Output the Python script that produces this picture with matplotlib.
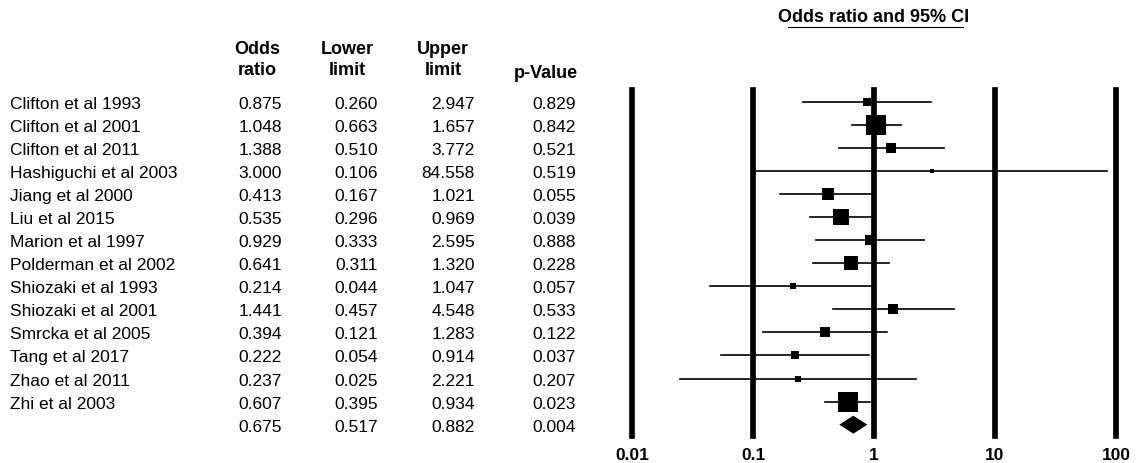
import matplotlib
matplotlib.use("Agg")
import matplotlib.pyplot as plt
from matplotlib import transforms
from matplotlib.lines import Line2D
from matplotlib.ticker import NullLocator

plt.rcParams['font.family'] = ['Liberation Sans', 'DejaVu Sans']

# data
studies = ["Clifton et al 1993", "Clifton et al 2001", "Clifton et al 2011",
           "Hashiguchi et al 2003", "Jiang et al 2000", "Liu et al 2015",
           "Marion et al 1997", "Polderman et al 2002", "Shiozaki et al 1993",
           "Shiozaki et al 2001", "Smrcka et al 2005", "Tang et al 2017",
           "Zhao et al 2011", "Zhi et al 2003"]
odds_ratio = [0.875, 1.048, 1.388, 3.000, 0.413, 0.535, 0.929, 0.641, 0.214,
              1.441, 0.394, 0.222, 0.237, 0.607]
lower = [0.260, 0.663, 0.510, 0.106, 0.167, 0.296, 0.333, 0.311, 0.044,
         0.457, 0.121, 0.054, 0.025, 0.395]
upper = [2.947, 1.657, 3.772, 84.558, 1.021, 0.969, 2.595, 1.320, 1.047,
         4.548, 1.283, 0.914, 2.221, 0.934]
p_value = [0.829, 0.842, 0.521, 0.519, 0.055, 0.039, 0.888, 0.228, 0.057,
           0.533, 0.122, 0.037, 0.207, 0.023]
# relative weights (%)
weights = [3.7, 18.7, 5.2, 0.6, 7.5, 13.3, 4.2, 10.2, 2.5, 4.7, 4.2, 3.3, 1.3, 20.7]

pooled_or = 0.675
pooled_lower = 0.517
pooled_upper = 0.882
pooled_p = 0.004

scale_ticks = [0.01, 0.1, 1, 10, 100]
scale_labels = ["0.01", "0.1", "1", "10", "100"]

W, H = 1137, 464
fig = plt.figure(figsize=(W / 100, H / 100), dpi=100)

# forest panel
ax = fig.add_axes([632 / W, (H - 437.2) / H, 484 / W, 346 / H])
ax.set_xscale("log")
ax.set_xlim(0.01, 100)
n = len(studies)
ax.set_ylim(n + 0.5, -0.5)

for t in scale_ticks:
    ax.axvline(t, color="black", lw=4.1, clip_on=False, zorder=1)

max_w = max(weights)
for i in range(n):
    ax.plot([lower[i], upper[i]], [i, i], color="black", lw=1.2, zorder=2)
    side = 20 * (weights[i] / max_w) ** 0.5 * 0.72   # px -> pt
    ax.plot(odds_ratio[i], i, marker="s", ms=side, mew=0, color="black", zorder=3)

# pooled diamond
ax.fill([pooled_lower, pooled_or, pooled_upper, pooled_or],
        [n, n - 0.39, n, n + 0.39], color="black", lw=0, zorder=3)

ax.set_xticks(scale_ticks)
ax.set_xticklabels(scale_labels, fontweight="bold", fontsize=12.5)
ax.xaxis.set_minor_locator(NullLocator())
ax.tick_params(axis="x", length=0, pad=8)
ax.set_yticks([])
for s in ax.spines.values():
    s.set_visible(False)

# table columns
trans = transforms.blended_transform_factory(fig.transFigure, ax.transData)
fs = 12.5
col_right = [282, 378, 475, 576]
for i in range(n):
    ax.text(10 / W, i, studies[i], transform=trans, ha="left",
            va="center_baseline", fontsize=fs)
    for x, v in zip(col_right, [odds_ratio[i], lower[i], upper[i], p_value[i]]):
        ax.text(x / W, i, f"{v:.3f}", transform=trans, ha="right",
                va="center_baseline", fontsize=fs)
for x, v in zip(col_right, [pooled_or, pooled_lower, pooled_upper, pooled_p]):
    ax.text(x / W, n, f"{v:.3f}", transform=trans, ha="right",
            va="center_baseline", fontsize=fs)

# headers
hdr = dict(fontsize=13, fontweight="bold", va="center", ha="center")
fig.text(257 / W, 1 - 50 / H, "Odds", **hdr)
fig.text(257 / W, 1 - 71 / H, "ratio", **hdr)
fig.text(347 / W, 1 - 50 / H, "Lower", **hdr)
fig.text(347 / W, 1 - 71 / H, "limit", **hdr)
fig.text(443 / W, 1 - 50 / H, "Upper", **hdr)
fig.text(443 / W, 1 - 71 / H, "limit", **hdr)
fig.text(578 / W, 1 - 73 / H, "p-Value", fontsize=13, fontweight="bold",
         va="center", ha="right")

# title with underline
fig.text(874 / W, 1 - 17 / H, "Odds ratio and 95% CI", fontsize=13,
         fontweight="bold", ha="center", va="center")
fig.add_artist(Line2D([788 / W, 963 / W], [1 - 28 / H, 1 - 28 / H],
                      transform=fig.transFigure, color="black", lw=0.8))

fig.savefig("out.png", dpi=100)
